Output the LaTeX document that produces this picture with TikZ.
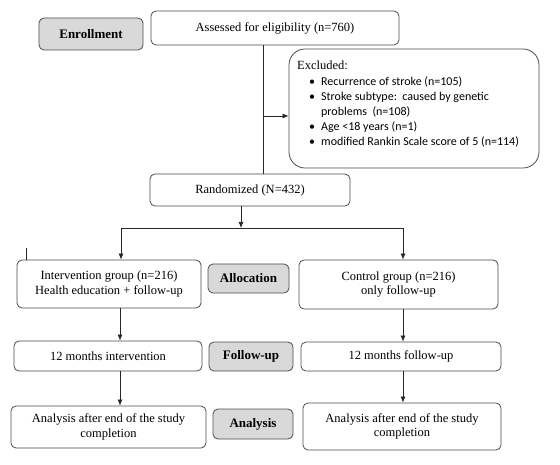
\documentclass[tikz,border=0pt]{standalone}
\usepackage{fontspec}
\setmainfont{Liberation Serif}
\newfontfamily\calfont{Carlito}
\usetikzlibrary{arrows.meta}
\begin{document}
\begin{tikzpicture}[x=1pt,y=-1pt,
  box/.style={draw=black!70, rounded corners=5pt, line width=0.8pt, align=center, inner sep=2pt, fill=white,
    font=\fontsize{12.5}{14.5}\selectfont},
  lab/.style={box, fill=black!15, font=\fontsize{13}{15}\selectfont\bfseries},
  arr/.style={-{Latex[length=6pt,width=5pt]}, line width=0.7pt, black!85},
  ln/.style={line width=0.7pt, black!85}]
\useasboundingbox (0,0) rectangle (560,465);

% phase labels
\node[lab, minimum width=104pt, minimum height=32pt] (enroll) at (91,34) {Enrollment};
\node[lab, minimum width=81pt, minimum height=29pt] (alloc) at (248.5,278.5) {Allocation};
\node[lab, minimum width=84pt, minimum height=29pt] (follow) at (251,356.5) {Follow-up};
\node[lab, minimum width=80pt, minimum height=30pt] (analysis) at (253,424) {Analysis};

% flow boxes
\node[box, minimum width=248pt, minimum height=34pt] (assess) at (275,28) {Assessed for eligibility (n=760)};
\node[box, rounded corners=16pt, minimum width=250pt, minimum height=119pt] (excl) at (414,108.5) {};
\node[anchor=north west, inner sep=0pt, align=left, font=\calfont\fontsize{12}{15.2}\selectfont] (extxt) at (297,59)
  {\begin{tabular}{@{\hspace{12pt}}l@{\hspace{6pt}}l@{}}
   \multicolumn{2}{@{}l@{}}{\rmfamily\fontsize{12.5}{15.2}\selectfont Excluded:}\\
   \textbullet & Recurrence of stroke (n=105)\\
   \textbullet & Stroke subtype:\ \ caused by genetic\\
               & problems\ \ (n=108)\\
   \textbullet & Age <18 years (n=1)\\
   \textbullet & modified Rankin Scale score of 5 (n=114)
   \end{tabular}};
\node[box, minimum width=200pt, minimum height=32pt] (rand) at (250,190) {Randomized (N=432)};
\node[box, minimum width=184pt, minimum height=48pt] (interv) at (109,284) {Intervention group (n=216)\\Health education + follow-up};
\node[box, minimum width=199pt, minimum height=49pt] (control) at (398.5,284.5) {Control group (n=216)\\only follow-up};
\node[box, minimum width=188pt, minimum height=30pt] (m12i) at (108,356) {12 months intervention};
\node[box, minimum width=200pt, minimum height=29pt] (m12f) at (401,356.5) {12 months follow-up};
\node[box, minimum width=195pt, minimum height=42pt] (anL) at (108.5,427) {Analysis after end of the study\\completion};
\node[box, minimum width=198pt, minimum height=47pt] (anR) at (402,426.5) {Analysis after end of the study\\completion};

% connector coordinates
\coordinate (vx) at (263,0);
\coordinate (j1) at (263,116);
\coordinate (split) at (241,228);
\coordinate (sl) at (121,228);
\coordinate (sr) at (403,228);
\coordinate (lx) at (120,0);
\coordinate (rx) at (403,0);
\coordinate (st1) at (26,248);

% connectors
\draw[ln] (assess.south -| vx) -- (rand.north -| vx);
\draw[arr] (j1) -- (excl.west |- j1);
\draw[arr] (rand.south -| split) -- (split);
\draw[ln] (sl) -- (sr);
\draw[arr] (sl) -- (interv.north -| sl);
\draw[arr] (sr) -- (control.north -| sr);
\draw[ln] (st1) -- (interv.north -| st1);
\draw[arr] (interv.south -| lx) -- (m12i.north -| lx);
\draw[arr] (m12i.south -| lx) -- (anL.north -| lx);
\draw[arr] (control.south -| rx) -- (m12f.north -| rx);
\draw[arr] (m12f.south -| rx) -- (anR.north -| rx);
\end{tikzpicture}
\end{document}
